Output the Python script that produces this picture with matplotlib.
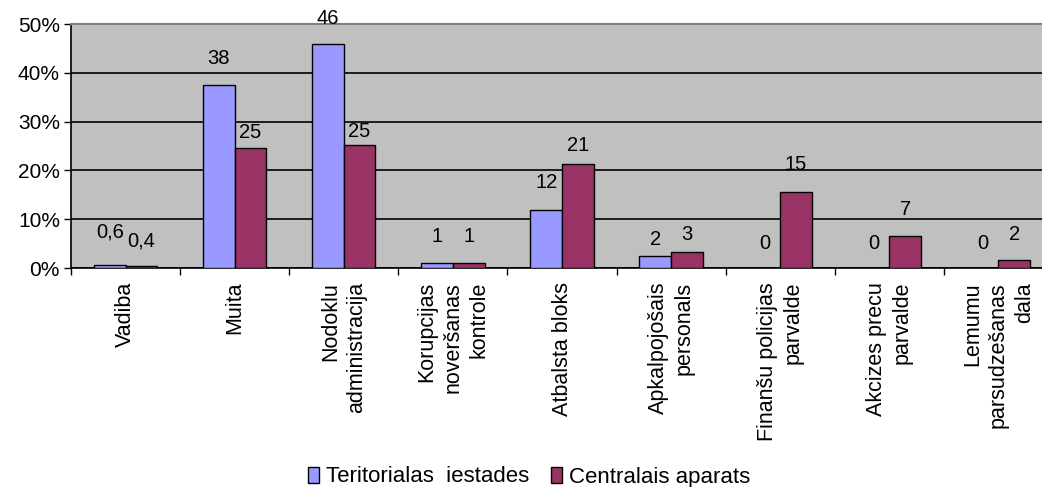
import numpy as np
import matplotlib
matplotlib.use("Agg")
import matplotlib.pyplot as plt
from matplotlib.ticker import FixedLocator, PercentFormatter

categories = [
    "Vadiba",
    "Muita",
    "Nodoklu\nadministracija",
    "Korupcijas\nnoveršanas\nkontrole",
    "Atbalsta bloks",
    "Apkalpojošais\npersonals",
    "Finanšu policijas\nparvalde",
    "Akcizes precu\nparvalde",
    "Lemumu\nparsudzešanas\ndala",
]
teritorialas = [0.6, 37.5, 45.8, 1.1, 11.8, 2.4, 0.0, 0.0, 0.0]
centralais = [0.4, 24.5, 25.3, 1.1, 21.3, 3.2, 15.5, 6.5, 1.6]
teritorialas_labels = ["0,6", "38", "46", "1", "12", "2", "0", "0", "0"]
centralais_labels = ["0,4", "25", "25", "1", "21", "3", "15", "7", "2"]
series_names = ["Teritorialas  iestades", "Centralais aparats"]

# label gap above each bar, in pixels (Excel placed them unevenly)
pad_ter = [24, 17, 16, 17, 18, 7, 15, 15, 15]
pad_cen = [16, 6, 4, 17, 9, 8, 18, 17, 16]

BLUE = "#9999FF"
RED = "#993366"
GREY = "#C0C0C0"

plt.rcParams["font.family"] = ["Liberation Sans", "DejaVu Sans"]

fig = plt.figure(figsize=(10.42, 4.87), dpi=100)
ax = fig.add_axes([71 / 1042, 1 - 268 / 487, 982 / 1042, 244 / 487])
ax.set_facecolor(GREY)

x = np.arange(len(categories))
w = 0.29
b1 = ax.bar(x - w / 2, teritorialas, w, color=BLUE, edgecolor="black", linewidth=1, zorder=3)
b2 = ax.bar(x + w / 2, centralais, w, color=RED, edgecolor="black", linewidth=1, zorder=3)

px = 72 / fig.dpi
for bars, labels, pads in [(b1, teritorialas_labels, pad_ter), (b2, centralais_labels, pad_cen)]:
    for rect, lab, p in zip(bars, labels, pads):
        ax.annotate(lab, (rect.get_x() + rect.get_width() / 2, rect.get_height()),
                    xytext=(0, p * px), textcoords="offset points",
                    ha="center", va="bottom", fontsize=14.5, zorder=4)

ax.set_ylim(0, 50)
ax.set_yticks(np.arange(0, 51, 10))
ax.yaxis.set_major_formatter(PercentFormatter(decimals=0))
ax.yaxis.grid(True, color="black", linewidth=1.2, zorder=1)
ax.tick_params(axis="y", labelsize=15, length=5, width=1, direction="out", pad=3)

ax.set_xlim(-0.5, len(categories) - 0.5)
ax.xaxis.set_major_locator(FixedLocator(np.arange(-0.5, len(categories), 1)))
ax.xaxis.set_major_formatter(plt.NullFormatter())
ax.set_xticks(x, minor=True)
ax.set_xticklabels(categories, minor=True, rotation=90, va="top", ha="center",
                   multialignment="right", linespacing=1.3, fontsize=15.5)
ax.tick_params(axis="x", which="major", length=5, width=1, direction="out")
ax.tick_params(axis="x", which="minor", length=0, pad=10)

for side in ["left", "bottom"]:
    ax.spines[side].set_color("black")
    ax.spines[side].set_linewidth(1.2)
ax.spines["top"].set_color("#808080")
ax.spines["top"].set_linewidth(1.5)
ax.spines["right"].set_visible(False)

fig.legend([b1, b2], series_names, loc="center", bbox_to_anchor=(529 / 1042, 1 - 477 / 487),
           ncol=2, frameon=False, handlelength=0.5, handleheight=0.75, handletextpad=0.3,
           columnspacing=1.0, prop={"family": ["Liberation Sans Narrow", "Liberation Sans"], "size": 16})

fig.savefig("out.png", dpi=100)
